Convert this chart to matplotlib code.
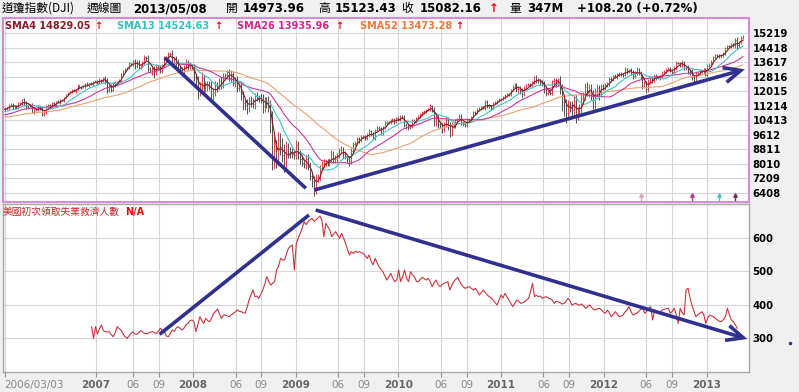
import numpy as np
import pandas as pd
import matplotlib
matplotlib.use("Agg")
import matplotlib.pyplot as plt
import matplotlib.dates as mdates
from matplotlib.patches import FancyArrowPatch
from matplotlib.lines import Line2D

# ---------------- data ----------------
# weekly DJI closes used only to warm up the moving averages (2005-03-04 .. 2006-02-24)
dji_warmup = [
    10940, 10774, 10627, 10442,
    10404, 10461, 10087, 10157, 10192,
    10345, 10140, 10471, 10542,
    10460, 10512, 10623, 10297,
    10303, 10449, 10640, 10651, 10641,
    10559, 10600, 10559, 10397,
    10447, 10678, 10641, 10420, 10569,
    10292, 10288, 10215, 10402,
    10531, 10686, 10766, 10931,
    10877, 10778, 10876, 10883, 10718,
    10959, 10960, 10667, 10907,
    10793, 10920, 11115, 11062,
]

# weekly DJI closes shown on the chart, 2006-03-03 .. 2013-05-10
dji_close = [
    # 2006
    11022, 11076, 11279, 11280, 11109, 11204, 11137, 11347, 11367,
    11577, 11380, 11144, 11278, 11247, 10891, 11015, 10989, 11150,
    11090, 10739, 10869, 11185, 11240, 11077, 11381, 11284,
    11464, 11393, 11560, 11508, 11679, 11851, 11961, 12002, 12091,
    12032, 12109, 12343, 12280, 12221, 12307, 12446, 12343, 12463,
    # 2007
    12398, 12556, 12565, 12487, 12653, 12581, 12768, 12647,
    12114, 12277, 12110, 12481, 12354, 12560, 12612, 12962, 13120,
    13264, 13327, 13556, 13507, 13668, 13424, 13639, 13360, 13409,
    13612, 13908, 13851, 13266, 13181, 13239, 13079, 13379, 13358,
    13113, 13442, 13821, 13896, 14066, 14093, 13522, 13807,
    13595, 13266, 13176, 13010, 13372, 13625, 13339, 13450, 13365,
    # 2008
    12800, 12606, 12099, 12207, 12743, 12182, 12348, 12381, 12266,
    11894, 11951, 12361, 12216, 12609, 12325, 12849, 12892,
    13058, 12745, 12986, 12480, 12638, 12210, 12308, 11843, 11347,
    11288, 11101, 11496, 11370, 11326, 11734, 11659, 11628, 11543,
    11220, 11421, 11388, 11143, 10325, 8451, 8852, 8378, 9325,
    8943, 8497, 8046, 8829, 8635, 8629, 8579, 8515,
    # 2009
    9034, 8599, 8281, 8077, 8000, 8280, 7850, 7366, 7062,
    6627, 7224, 7278, 7776, 8017, 8083, 8131, 8076,
    8212, 8575, 8268, 8277, 8500, 8764, 8799, 8539, 8438,
    8280, 8146, 8743, 9093, 9172, 9370, 9321, 9505, 9544,
    9441, 9605, 9820, 9665, 9487, 9865, 9995, 9972, 9713,
    10023, 10270, 10318, 10310, 10388, 10471, 10329, 10520, 10428,
    # 2010
    10618, 10609, 10173, 10067, 10012, 10099, 10402, 10325,
    10566, 10625, 10741, 10850, 10927, 10997, 11019, 11204, 11008,
    10380, 10620, 10193, 10136, 9931, 10211, 10450, 10144,
    9686, 10198, 10098, 10424, 10466, 10653, 10303, 10213, 10150,
    10448, 10462, 10607, 10860, 10829, 11006, 11062, 11133, 11118,
    11444, 11193, 11204, 11092, 11382, 11410, 11492, 11573, 11578,
    # 2011
    11674, 11787, 11872, 11823, 12092, 12273, 12391, 12130,
    12169, 12044, 11858, 12221, 12376, 12380, 12341, 12505, 12810,
    12638, 12595, 12512, 12441, 12151, 11952, 12004, 11934,
    12582, 12657, 12480, 12681, 12143, 11445, 11269, 10818, 11285,
    11240, 10993, 11509, 10771, 10913, 11103, 11644, 11809, 12231,
    11983, 12154, 11796, 11231, 12019, 12184, 11866, 12294, 12218,
    # 2012
    12360, 12422, 12720, 12660, 12862, 12801, 12950, 12983,
    12978, 12922, 13233, 13081, 13212, 13060, 12850, 13029, 13228,
    13038, 12821, 12369, 12454, 12119, 12554, 12767, 12640, 12880,
    12773, 12777, 12823, 13075, 13096, 13207, 13275, 13158, 13090,
    13306, 13593, 13579, 13437, 13610, 13328, 13343, 13107,
    13093, 12815, 12588, 13010, 13025, 13155, 13135, 13190, 12938,
    # 2013
    13435, 13488, 13650, 13896, 14009, 13993, 13981, 14001,
    14090, 14397, 14514, 14512, 14579, 14565, 14865, 14547, 14712,
    14974, 15082,
]

# weekly wick lengths (points above / below the bar body)
wick_up = [
    60, 90, 40, 70, 110, 50, 80, 60, 40, 30, 70, 120, 90, 60, 140, 80, 70, 110, 60, 90, 120, 80,
    60, 100, 50, 70, 40, 60, 30, 50, 40, 30, 20, 50, 40, 60, 30, 70, 40, 30, 50, 40, 60, 30,
    70, 40, 60, 50, 80, 60, 40, 90, 120, 100, 150, 60, 90, 40, 60, 50, 70, 60, 40, 80, 50,
    90, 120, 80, 100, 70, 60, 90, 70, 150, 120, 200, 180, 160, 90, 110, 80, 130, 90,
    120, 100, 220, 130, 160, 180, 140, 200, 120, 150, 110, 170, 90,
    150, 200, 250, 300, 350, 200, 250, 180, 220, 300, 250, 200, 180, 150, 200, 160, 120,
    140, 180, 200, 150, 170, 200, 150, 220, 180, 250, 300, 200, 280, 300, 200, 250, 180, 220,
    350, 300, 280, 350, 400, 600, 700, 500, 450, 400, 500, 600, 450, 350, 300, 280, 250,
    300, 250, 200, 250, 180, 200, 300, 250, 220, 300, 250, 200, 180, 150, 200, 160, 140,
    150, 180, 160, 200, 140, 150, 180, 160, 170, 140, 160, 150, 120, 110, 100, 120, 90, 80,
    90, 110, 100, 80, 120, 100, 90, 110, 80, 100, 90, 80, 70, 90, 80, 70, 60, 70,
    80, 90, 100, 70, 120, 100, 80, 70, 60, 80, 70, 60, 50, 70, 80, 100, 60,
    120, 200, 150, 180, 150, 120, 130, 160, 180, 110, 90, 80, 70, 120, 100, 90, 80,
    100, 70, 60, 80, 60, 70, 90, 80, 70, 80, 90, 100, 70, 60, 80, 70, 50, 60,
    70, 80, 60, 70, 80, 70, 60, 90, 120, 150, 130, 80, 70, 80, 90, 60, 70,
    120, 90, 100, 110, 120, 140, 110, 130, 80, 100, 120, 90, 200, 300, 250, 350, 250,
    200, 250, 280, 300, 220, 200, 250, 180, 220, 300, 250, 280, 300, 200, 250, 180, 150, 120,
    100, 120, 90, 80, 70, 100, 60, 80, 90, 70, 110, 80, 60, 100, 120, 90, 110,
    80, 100, 120, 110, 150, 120, 100, 90, 110, 80, 100, 90, 70, 80, 90, 60, 70, 80,
    90, 100, 60, 70, 110, 90, 80, 100, 120, 150, 100, 90, 80, 110, 90, 100, 120,
    100, 90, 80, 70, 90, 80, 110, 70, 110, 90, 80, 70, 80, 90, 110, 150, 100, 80, 60,
]
wick_dn = [
    80, 50, 60, 90, 40, 70, 100, 80, 60, 90, 150, 110, 80, 120, 90, 130, 70, 60, 120, 80, 100, 90,
    70, 60, 50, 80, 60, 40, 70, 50, 60, 40, 30, 60, 70, 50, 80, 40, 60, 70, 40, 90, 50, 60,
    50, 80, 40, 70, 60, 90, 50, 250, 200, 150, 130, 80, 100, 60, 50, 70, 40, 50, 80, 60, 90,
    70, 150, 100, 120, 90, 80, 60, 90, 200, 180, 250, 300, 150, 120, 90, 100, 70, 60,
    80, 120, 150, 170, 200, 150, 160, 130, 110, 120, 140, 100, 130,
    200, 250, 500, 350, 300, 250, 200, 300, 180, 400, 350, 200, 250, 150, 180, 140, 200,
    160, 150, 220, 180, 200, 250, 200, 300, 350, 300, 350, 250, 200, 250, 300, 200, 220, 180,
    400, 350, 300, 250, 600, 800, 700, 600, 500, 450, 400, 500, 350, 300, 280, 260, 240,
    250, 300, 280, 200, 200, 250, 200, 250, 300, 400, 250, 220, 200, 150, 250, 180, 160,
    200, 150, 220, 180, 160, 140, 160, 200, 180, 200, 250, 150, 120, 100, 120, 140, 100, 90,
    120, 100, 90, 100, 110, 150, 80, 90, 120, 90, 80, 100, 110, 80, 70, 90, 70, 60,
    70, 60, 150, 120, 150, 100, 90, 80, 70, 60, 80, 70, 60, 80, 70, 90, 150,
    300, 250, 200, 150, 200, 150, 180, 250, 200, 120, 100, 90, 80, 100, 150, 120, 90,
    80, 70, 90, 60, 70, 80, 60, 90, 70, 120, 80, 90, 100, 70, 60, 80, 90, 70,
    60, 70, 90, 80, 90, 60, 80, 150, 200, 180, 220, 120, 100, 90, 80, 110, 100,
    150, 120, 130, 150, 200, 180, 150, 140, 120, 150, 200, 180, 250, 500, 600, 550, 400,
    350, 400, 300, 500, 350, 300, 280, 350, 250, 250, 300, 280, 200, 250, 200, 300, 180, 150,
    120, 90, 100, 110, 80, 70, 90, 60, 100, 120, 80, 90, 70, 150, 130, 120, 90,
    100, 150, 200, 180, 200, 150, 120, 180, 100, 120, 100, 110, 90, 80, 70, 90, 80, 100,
    90, 120, 70, 80, 100, 150, 120, 130, 150, 200, 180, 120, 100, 130, 120, 150, 100,
    120, 80, 70, 60, 80, 90, 100, 110, 70, 80, 100, 90, 80, 110, 150, 200, 120, 100, 60,
]

# US initial jobless claims (thousands), weekly from 2007-01-06
claims = [
    # 2007
    334, 299, 334, 312, 328, 339, 322, 319, 318, 319, 310, 304, 316, 334, 328, 324, 312, 304,
    299, 306, 314, 318, 312, 311, 316, 322, 318, 314, 312, 315, 318, 319, 316, 314, 321, 329,
    322, 319, 306, 304, 314, 324, 320, 330, 334, 329, 324, 330, 340, 344, 352, 354,
    # 2008
    349, 319, 340, 364, 352, 344, 359, 352, 349, 360, 374, 380, 387, 372, 359, 369, 369, 366,
    364, 370, 374, 378, 384, 380, 379, 376, 374, 392, 414, 430, 444, 424, 426, 419, 432, 444,
    462, 484, 470, 459, 464, 470, 504, 516, 539, 534, 534, 552, 569, 575, 579, 504,
    # 2009
    584, 600, 614, 630, 649, 640, 649, 655, 659, 650, 654, 660, 666, 654, 604, 644, 634, 624,
    604, 612, 619, 608, 599, 614, 600, 584, 566, 549, 559, 554, 560, 557, 559, 556, 554, 546,
    539, 549, 530, 519, 539, 526, 514, 506, 499, 486, 474, 484, 494, 480, 469, 474,
    # 2010
    504, 469, 484, 504, 480, 469, 499, 490, 484, 470, 469, 476, 482, 478, 474, 479, 470, 454,
    466, 474, 460, 454, 460, 464, 466, 469, 444, 458, 469, 476, 482, 470, 459, 452, 449, 452,
    454, 448, 444, 449, 440, 429, 436, 444, 436, 429, 424, 420, 414, 406, 399, 414,
    # 2011
    429, 420, 434, 424, 414, 404, 394, 404, 414, 410, 404, 406, 409, 414, 419, 440, 464, 424,
    428, 424, 426, 419, 422, 424, 420, 418, 414, 404, 410, 409, 406, 402, 404, 410, 419, 412,
    399, 402, 404, 400, 399, 402, 396, 389, 394, 399, 392, 386, 384, 388, 389, 384,
    # 2012
    378, 374, 384, 376, 364, 370, 379, 372, 364, 366, 369, 378, 384, 394, 380, 369, 372, 374,
    380, 386, 389, 374, 380, 388, 394, 354, 384, 380, 374, 378, 384, 386, 388, 389, 374, 380,
    389, 370, 344, 389, 376, 369, 444, 449, 420, 399, 380, 364, 370, 374, 379, 370,
    # 2013
    344, 360, 369, 366, 364, 358, 354, 350, 349, 356, 364, 389, 370, 354, 349, 340, 329,
]

price_ticks = [6408, 7209, 8010, 8811, 9612, 10413, 11214, 12015, 12816, 13617, 14418, 15219]
claims_ticks = [300, 400, 500, 600]

x_tick_dates = ["2006-03-03", "2007-01-22", "2007-06-01", "2007-09-01",
                "2008-01-01", "2008-06-01", "2008-09-01",
                "2009-01-01", "2009-06-01", "2009-09-01",
                "2010-01-01", "2010-06-01", "2010-09-01",
                "2011-01-01", "2011-06-01", "2011-09-01",
                "2012-01-01", "2012-06-01", "2012-09-01", "2013-01-01"]
x_tick_labels = ["2006/03/03", "2007", "06", "09", "2008", "06", "09", "2009", "06", "09",
                 "2010", "06", "09", "2011", "06", "09", "2012", "06", "09", "2013"]

sma_periods = [4, 13, 26, 52]
sma_colors = ["#8b1a2a", "#40c4c4", "#c8399c", "#eea070"]
sma_texts = ["SMA4 14829.05", "SMA13 14524.63", "SMA26 13935.96", "SMA52 13473.28"]

# hand-drawn trend lines: (start date, start value, end date, end value, arrow)
price_trends = [("2007-09-23", 13873, "2009-02-06", 6668, False),
                ("2009-03-08", 6574, "2013-05-17", 13233, True)]
claims_trends = [("2007-09-05", 311, "2009-02-17", 669, False),
                 ("2009-03-13", 684, "2013-05-26", 297, True)]

signal_dates = ["2012-05-12", "2012-11-10", "2013-02-13", "2013-04-13"]
signal_colors = ["#e0a8a8", "#c0308c", "#40c8c8", "#703050"]

# ---------------- build ----------------
CJK = ["Noto Sans CJK TC", "DejaVu Sans"]
plt.rcParams["font.family"] = ["DejaVu Sans"]

weeks = mdates.date2num(pd.date_range("2006-03-03", periods=len(dji_close), freq="7D"))
claim_weeks = mdates.date2num(pd.date_range("2007-01-06", periods=len(claims), freq="7D"))

all_close = pd.Series(dji_warmup + dji_close, dtype=float)
n0 = len(dji_warmup)
close = np.array(dji_close, float)
opens = np.r_[dji_warmup[-1], close[:-1]]
hi = np.maximum(opens, close) + np.array(wick_up)
lo = np.minimum(opens, close) - np.array(wick_dn)
up = close >= opens

fig = plt.figure(figsize=(8, 3.92), dpi=100, facecolor="#f0f0f0")
L, R = 3 / 800, 748.5 / 800
ax1 = fig.add_axes([L, 1 - 202 / 392, R - L, (202 - 18) / 392])
ax2 = fig.add_axes([L, 1 - 372 / 392, R - L, (372 - 204) / 392])

xlim = mdates.date2num(pd.to_datetime(["2006-02-25", "2013-05-30"]))
xt = mdates.date2num(pd.to_datetime(x_tick_dates))

for ax in (ax1, ax2):
    ax.set_facecolor("white")
    ax.set_xlim(xlim)
    ax.set_xticks(xt)
    ax.grid(True, color="#d6d6d6", lw=0.8)
    ax.set_axisbelow(True)
    ax.yaxis.tick_right()

# --- price panel ---
bar_red, bar_dark = "#e04040", "#505050"
for mask, col in ((up, bar_red), (~up, bar_dark)):
    ax1.vlines(weeks[mask], lo[mask], hi[mask], color=col, lw=0.7, zorder=2)
    ax1.hlines(opens[mask], weeks[mask] - 2.2, weeks[mask], color=col, lw=0.6, zorder=2)
    ax1.hlines(close[mask], weeks[mask], weeks[mask] + 2.2, color=col, lw=0.6, zorder=2)

for n, col in zip(sma_periods[::-1], sma_colors[::-1]):
    sma = all_close.rolling(n).mean().to_numpy()[n0:]
    ax1.plot(weeks, sma, color=col, lw=0.8, zorder=3)

ax1.set_ylim(5911, 16063)
ax1.set_yticks(price_ticks)
ax1.set_xticklabels([])
ax1.tick_params(axis="x", length=0)
ax1.tick_params(axis="y", length=0, pad=3, labelsize=7.3, labelcolor="black")
for t in ax1.get_yticklabels():
    t.set_fontweight("bold")
for s in ax1.spines.values():
    s.set_color("#d48ed8")
    s.set_linewidth(1.5)

sig_x = mdates.date2num(pd.to_datetime(signal_dates))
trans1 = ax1.get_xaxis_transform()
for sx, col in zip(sig_x, signal_colors):
    ax1.plot([sx, sx], [0.01, 0.04], color=col, lw=1.0, transform=trans1, zorder=4)
    ax1.plot(sx, 0.04, marker="^", ms=2.5, color=col, transform=trans1, zorder=4)

# --- claims panel ---
ax2.plot(claim_weeks, claims, color="#c8343c", lw=0.8, zorder=3)
ax2.set_ylim(198, 702)
ax2.set_yticks(claims_ticks)
ax2.set_xticklabels(x_tick_labels)
ax2.tick_params(axis="y", length=0, pad=3, labelsize=7.3, labelcolor="black")
for t in ax2.get_yticklabels():
    t.set_fontweight("bold")
ax2.tick_params(axis="x", direction="out", length=3.5, width=0.8, color="#909090",
                pad=2, labelsize=7.5)
for i, t in enumerate(ax2.get_xticklabels()):
    lab = x_tick_labels[i]
    if len(lab) == 4:
        t.set_fontweight("bold")
        t.set_color("#666666")
    else:
        t.set_color("#8a8a8a")
    if i == 0:
        t.set_horizontalalignment("left")
for s in ax2.spines.values():
    s.set_color("#a8a8a8")
    s.set_linewidth(1.0)

# --- trend lines ---
navy = "#30308f"
for ax, trends in ((ax1, price_trends), (ax2, claims_trends)):
    for d0, v0, d1, v1, arrow in trends:
        p0 = (mdates.date2num(pd.Timestamp(d0)), v0)
        p1 = (mdates.date2num(pd.Timestamp(d1)), v1)
        style = "->,head_length=1.2,head_width=0.55" if arrow else "-"
        ap = FancyArrowPatch(p0, p1, arrowstyle=style, mutation_scale=10, color=navy,
                             lw=2.6, shrinkA=0, shrinkB=0, clip_on=False, zorder=5,
                             capstyle="butt", joinstyle="miter")
        ax.add_patch(ap)

# --- header texts ---
def px(x):
    return x / 800


def py(y):
    return 1 - y / 392


hy = py(8.5)
fig.text(px(2), hy, "道瓊指數(DJI)", family=CJK, fontsize=8.5, va="center")
fig.text(px(87), hy, "週線圖", family=CJK, fontsize=8.5, va="center")
fig.text(px(133), hy, "2013/05/08", fontsize=8.5, weight="bold", va="center")
fig.text(px(226), hy, "開", family=CJK, fontsize=8.5, va="center")
fig.text(px(243), hy, "14973.96", fontsize=8.5, weight="bold", va="center")
fig.text(px(318), hy, "高", family=CJK, fontsize=8.5, va="center")
fig.text(px(335), hy, "15123.43", fontsize=8.5, weight="bold", va="center")
fig.text(px(401), hy, "收", family=CJK, fontsize=8.5, va="center")
fig.text(px(420), hy, "15082.16", fontsize=8.5, weight="bold", va="center")
fig.text(px(489), hy, "↑", fontsize=8.5, weight="bold", color="#e01010", va="center")
fig.text(px(509), hy, "量", family=CJK, fontsize=8.5, va="center")
fig.text(px(527), hy, "347M", fontsize=8.5, weight="bold", va="center")
fig.text(px(577), hy, "+108.20 (+0.72%)", fontsize=8.5, weight="bold", va="center")

# SMA legend row
ly = py(26)
for x0, txt, col in zip([5, 117, 237, 360], sma_texts, ["#8b1a2a", "#33c0c0", "#d0288c", "#ee7a3a"]):
    fig.text(px(x0), ly, txt, fontsize=7, weight="bold", color=col, va="center")
for xa in [94, 214, 335, 455]:
    fig.text(px(xa), ly, "↑", fontsize=7, weight="bold", color="#e01010", va="center")

# claims title
ty = py(212)
fig.text(px(3), ty, "美國初次領取失業救濟人數", family=CJK, fontsize=7, color="#d02020", va="center")
fig.text(px(125), ty, "N/A", fontsize=7, weight="bold", color="#e01010", va="center")

fig.add_artist(Line2D([799.5 / 800, 799.5 / 800], [0, 1], color="#e04040", lw=1.0))
fig.add_artist(Line2D([790 / 800], [py(343)], marker="o", ms=1.5, color=navy, lw=0))

fig.savefig("out.png", dpi=100, facecolor=fig.get_facecolor())
